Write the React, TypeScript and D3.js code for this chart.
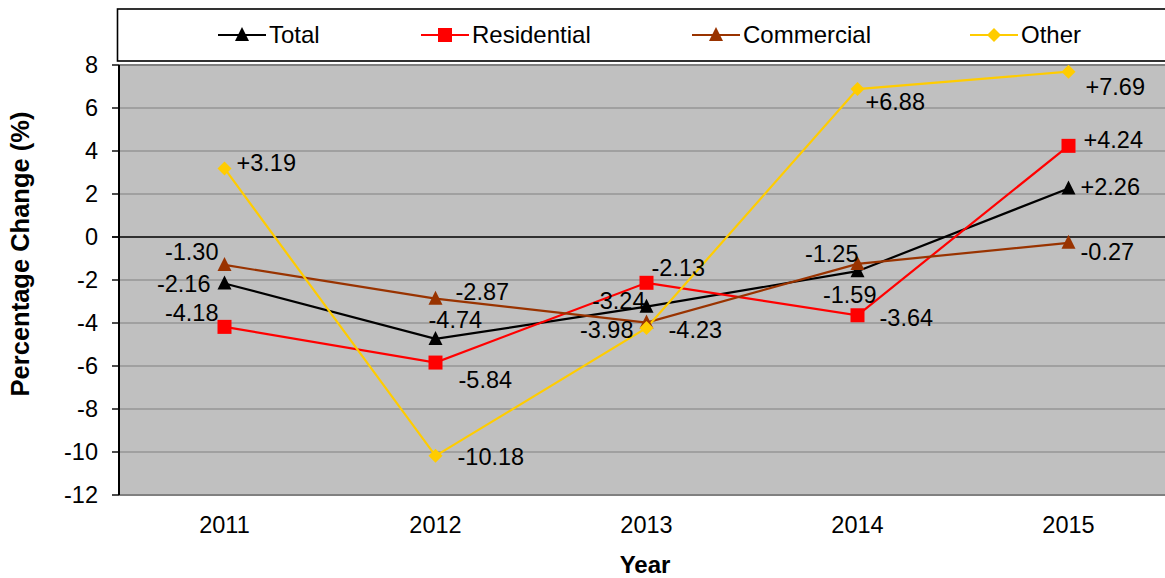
import React from "react";
import * as d3 from "d3";

const years = ["2011", "2012", "2013", "2014", "2015"];
const total = [-2.16, -4.74, -3.24, -1.59, 2.26];
const residential = [-4.18, -5.84, -2.13, -3.64, 4.24];
const commercial = [-1.3, -2.87, -3.98, -1.25, -0.27];
const other = [3.19, -10.18, -4.23, 6.88, 7.69];
const yTicks = [-12, -10, -8, -6, -4, -2, 0, 2, 4, 6, 8];

// label placement: [anchor, dx, dy]
const totalLab: [string, number, number][] = [["end", -14, 0], ["start", -7, -19], ["end", -1, -6], ["end", 19, 24], ["start", 12, -2]];
const resLab: [string, number, number][] = [["end", -6, -14], ["start", 23, 17], ["start", 5, -15], ["start", 22, 3], ["start", 15, -6]];
const comLab: [string, number, number][] = [["end", -6, -13], ["start", 20, -7], ["end", -13, 7], ["end", 1, -10], ["start", 12, 9]];
const othLab: [string, number, number][] = [["start", 12, -6], ["start", 22, 1], ["start", 22, 2], ["start", 8, 13], ["start", 17, 15]];

const W = 1165, H = 578;
const FONT = "'Liberation Sans', Arial, sans-serif";
const FS = 23.5;

const series = [
  { name: "Total", values: total, color: "#000000", marker: "triangle", labels: totalLab },
  { name: "Residential", values: residential, color: "#FF0000", marker: "square", labels: resLab },
  { name: "Commercial", values: commercial, color: "#993300", marker: "triangle", labels: comLab },
  { name: "Other", values: other, color: "#FFCC00", marker: "diamond", labels: othLab },
];

function fmt(v: number) {
  return (v > 0 ? "+" : "") + v.toFixed(2);
}

function Marker({ type, x, y, color }: { type: string; x: number; y: number; color: string }) {
  if (type === "square") return <rect x={x - 7} y={y - 7} width={14} height={14} fill={color} />;
  if (type === "diamond") return <path d={`M${x},${y - 7}L${x + 7},${y}L${x},${y + 7}L${x - 7},${y}Z`} fill={color} />;
  return <path d={`M${x},${y - 8}L${x + 7},${y + 6}L${x - 7},${y + 6}Z`} fill={color} />;
}

export default function App() {
  const plotL = 119, plotR = 1174, plotT = 65, plotB = 495;
  const x = d3.scaleBand<string>().domain(years).range([plotL, plotR]);
  const y = d3.scaleLinear().domain([-12, 8]).range([plotB, plotT]);
  const cx = (yr: string) => (x(yr) as number) + x.bandwidth() / 2;
  const line = d3.line<number>().x((_, i) => cx(years[i])).y((v) => y(v));

  const legendX = [218, 421, 692, 970];

  return (
    <svg width={W} height={H} style={{ position: "absolute", left: 0, top: 0, background: "#fff" }} fontFamily={FONT}>
      {/* plot area */}
      <rect x={plotL} y={plotT} width={W - plotL} height={plotB - plotT} fill="#C0C0C0" />
      {yTicks.map((t) => (
        <line key={t} x1={plotL - 7} x2={W} y1={y(t)} y2={y(t)} stroke={t === 0 ? "#000" : "#808080"} strokeWidth={t === 0 ? 1.3 : 1.2} />
      ))}
      <line x1={plotL} x2={W} y1={plotT} y2={plotT} stroke="#808080" strokeWidth={2} />
      <line x1={plotL} x2={W} y1={plotB} y2={plotB} stroke="#808080" strokeWidth={2} />
      <line x1={plotL} x2={plotL} y1={plotT} y2={plotB} stroke="#000" strokeWidth={2} />
      {yTicks.map((t) => (
        <line key={"tk" + t} x1={plotL - 7} x2={plotL} y1={y(t)} y2={y(t)} stroke="#000" strokeWidth={1.2} />
      ))}
      {yTicks.map((t) => (
        <text key={"yl" + t} x={98} y={y(t)} dy="0.35em" textAnchor="end" fontSize={FS} fill="#000">
          {t}
        </text>
      ))}
      {years.map((yr) => (
        <text key={yr} x={cx(yr)} y={533} textAnchor="middle" fontSize={FS} fill="#000">
          {yr}
        </text>
      ))}
      <text x={645} y={573} textAnchor="middle" fontSize={24} fontWeight="bold">Year</text>
      <text transform="translate(29,254) rotate(-90)" textAnchor="middle" fontSize={25.5} fontWeight="bold">
        Percentage Change (%)
      </text>

      {/* series */}
      {series.map((s) => (
        <path key={s.name} d={line(s.values) as string} fill="none" stroke={s.color} strokeWidth={2.2} />
      ))}
      {series.map((s) =>
        s.values.map((v, i) => <Marker key={s.name + i} type={s.marker} x={cx(years[i])} y={y(v)} color={s.color} />)
      )}
      {series.map((s) =>
        s.values.map((v, i) => {
          const [anchor, dx, dy] = s.labels[i];
          return (
            <text key={"l" + s.name + i} x={cx(years[i]) + dx} y={y(v) + dy} dy="0.35em" textAnchor={anchor as any} fontSize={FS} fill="#000">
              {fmt(v)}
            </text>
          );
        })
      )}

      {/* legend */}
      <rect x={117.5} y={9} width={1100} height={52} fill="#fff" stroke="#000" strokeWidth={1.6} />
      {series.map((s, i) => (
        <g key={"lg" + s.name}>
          <line x1={legendX[i]} x2={legendX[i] + 48} y1={35} y2={35} stroke={s.color} strokeWidth={2.2} />
          <Marker type={s.marker} x={legendX[i] + 24} y={35} color={s.color} />
          <text x={legendX[i] + 51} y={35} dy="0.35em" fontSize={24} fill="#000">
            {s.name}
          </text>
        </g>
      ))}
    </svg>
  );
}
